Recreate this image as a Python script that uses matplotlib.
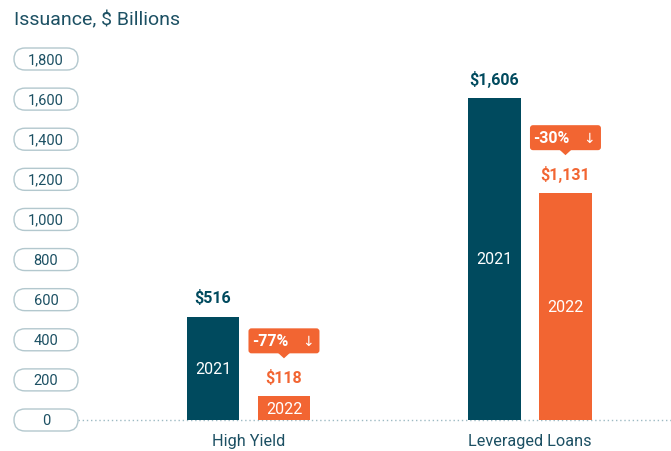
import matplotlib
matplotlib.use("Agg")
import matplotlib.pyplot as plt
from matplotlib.patches import FancyBboxPatch, Polygon
from matplotlib.transforms import IdentityTransform
import numpy as np

plt.rcParams['font.family'] = ['Roboto', 'DejaVu Sans']

categories = ["High Yield", "Leveraged Loans"]
values_2021 = [516, 1606]
values_2022 = [118, 1131]
pct_change = ["-77%", "-30%"]
yticks = [0, 200, 400, 600, 800, 1000, 1200, 1400, 1600, 1800]
title = "Issuance, $ Billions"

TEAL = "#004A5E"
ORANGE = "#F26532"
TXT = "#1C5063"
PILL = "#B3C8CE"

W, H = 671, 452
fig = plt.figure(figsize=(W / 100, H / 100), dpi=100)
ax = fig.add_axes([78 / W, 31 / H, 593 / W, 361 / H])
ax.set_ylim(0, 1800)
ax.set_xlim(-0.6057, 1.5009)
ax.axis("off")

x = np.arange(len(categories))
off, bw = 0.126, 0.188

ax.bar(x - off, values_2021, width=bw, color=TEAL, zorder=3)
ax.bar(x + off, values_2022, width=bw, color=ORANGE, zorder=3)

# zero line
ax.axhline(0, color="#9DBAC3", lw=1, ls=(0, (1, 2)), zorder=2, clip_on=False)

fig.canvas.draw()
ID = IdentityTransform()

for i in range(len(categories)):
    v1, v2 = values_2021[i], values_2022[i]
    ax.annotate(f"${v1:,}", (x[i] - off, v1), xytext=(0, 8), textcoords="offset points",
                ha="center", va="bottom", fontsize=11.5, fontweight="bold", color=TEAL)
    ax.annotate(f"${v2:,}", (x[i] + off, v2), xytext=(0, 8), textcoords="offset points",
                ha="center", va="bottom", fontsize=11.5, fontweight="bold", color=ORANGE)
    ax.text(x[i] - off, v1 / 2, "2021", ha="center", va="center", fontsize=11.5, color="white", zorder=4)
    ax.text(x[i] + off, v2 / 2, "2022", ha="center", va="center", fontsize=11.5, color="white", zorder=4)
    ax.text(x[i], -0.058, categories[i], transform=ax.get_xaxis_transform(), ha="center", va="center",
            fontsize=11.7, color=TXT)

    # change callout box (pixel offsets from the 2022 bar top)
    cx, cy = ax.transData.transform((x[i] + off, v2))
    bw_px, bh_px = 71, 25
    b0 = cy + 43
    box = FancyBboxPatch((cx - bw_px / 2, b0), bw_px, bh_px, boxstyle="round,pad=0,rounding_size=3",
                         transform=ID, fc=ORANGE, ec="none", zorder=6)
    fig.patches.append(box)
    tri = Polygon([[cx - 6, b0 + 0.5], [cx + 6, b0 + 0.5], [cx, b0 - 5]], closed=True,
                  transform=ID, fc=ORANGE, ec="none", zorder=6)
    fig.patches.append(tri)
    fig.text(cx - 14, b0 + bh_px / 2, pct_change[i], transform=ID, ha="center", va="center",
             fontsize=11.5, fontweight="bold", color="white", zorder=7)
    fig.text(cx + 24, b0 + bh_px / 2, "\u2193", transform=ID, ha="center", va="center",
             fontsize=10, color="white", zorder=7, family=["DejaVu Sans"])

# pill tick labels
for t in yticks:
    _, yd = ax.transData.transform((0, t))
    p = FancyBboxPatch((14, yd - 11), 64, 22, boxstyle="round,pad=0,rounding_size=11",
                       transform=ID, fc="white", ec=PILL, lw=1)
    fig.patches.append(p)
    fig.text(46 / W, yd / H, f"{t:,}", ha="center", va="center", fontsize=10.5, color=TXT)

fig.text(14 / W, 1 - 20 / H, title, ha="left", va="center", fontsize=14, color=TXT)

fig.savefig("out.png", dpi=100)
